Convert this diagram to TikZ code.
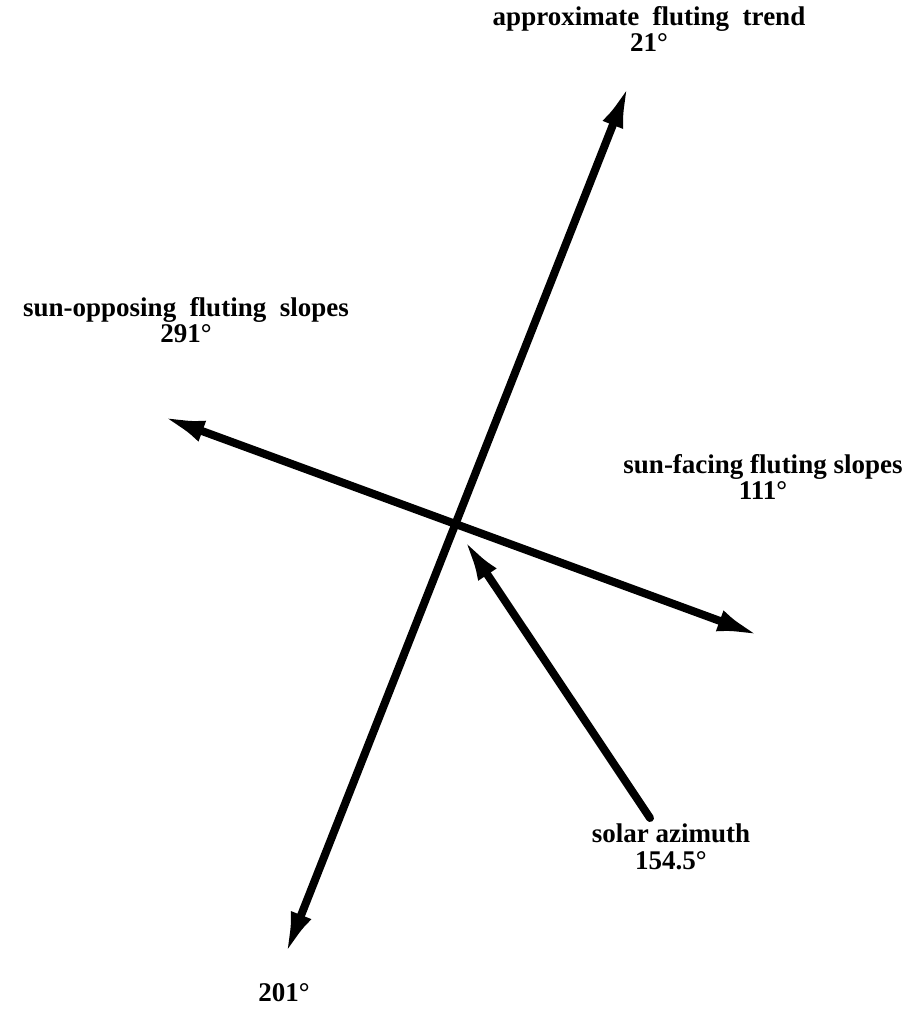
\documentclass[tikz,border=0pt]{standalone}
\usepackage{fontspec}
\setmainfont{Liberation Serif}
\usetikzlibrary{arrows.meta}
\begin{document}
\begin{tikzpicture}[x=1pt,y=-1pt,
  tip/.style={Latex[length=44pt,width=22pt]},
  axis/.style={line width=8pt, line cap=round, -{Latex[length=44pt,width=22pt]}},
  axisboth/.style={line width=8pt, {Latex[length=44pt,width=22pt]}-{Latex[length=44pt,width=22pt]}},
  lbl/.style={font=\bfseries\fontsize{27}{26.5}\selectfont, align=center, inner sep=0pt}]
\useasboundingbox (0,0) rectangle (915,1009);
\coordinate (tN) at (629,84);
\coordinate (tS) at (285,956);
\coordinate (sW) at (161,416);
\coordinate (sE) at (761,636);
\coordinate (sunT) at (650,818);
\coordinate (sunH) at (463,538);
\draw[axisboth] (tS) -- (tN);
\draw[axisboth] (sW) -- (sE);
\draw[axis] (sunT) -- (sunH);
\node[lbl] (ltrend) at (649,29) {approximate\ \ fluting\ \ trend\\21°};
\node[lbl] (lopp) at (186,320) {sun-opposing\ \ fluting\ \ slopes\\291°};
\node[lbl] (lface) at (763,477) {sun-facing fluting slopes\\111°};
\node[lbl] (lsun) at (671,847) {solar azimuth\\154.5°};
\node[lbl] (ls) at (284,993) {201°};
\end{tikzpicture}
\end{document}
